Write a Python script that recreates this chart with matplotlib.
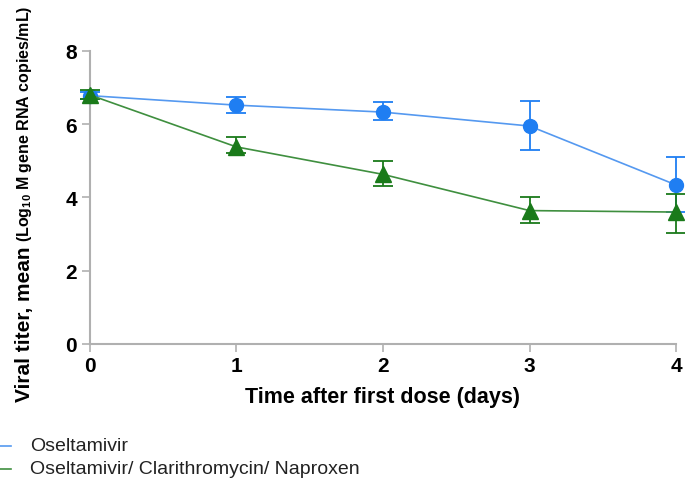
import numpy as np
import matplotlib
matplotlib.use("Agg")
import matplotlib.pyplot as plt

plt.rcParams['font.family'] = ['Liberation Sans', 'DejaVu Sans']
plt.rcParams['mathtext.fontset'] = 'custom'
plt.rcParams['mathtext.rm'] = 'Liberation Sans'
plt.rcParams['mathtext.bf'] = 'Liberation Sans:bold'

# ---------- DATA ----------
days = [0, 1, 2, 3, 4]
osel_mean = [6.78, 6.52, 6.33, 5.95, 4.34]
osel_lo = [0.10, 0.22, 0.22, 0.65, 0.75]
osel_hi = [0.10, 0.22, 0.28, 0.68, 0.76]
combo_mean = [6.80, 5.38, 4.63, 3.64, 3.60]
combo_lo = [0.12, 0.18, 0.32, 0.35, 0.57]
combo_hi = [0.12, 0.26, 0.36, 0.36, 0.50]
labels = ['Oseltamivir', 'Oseltamivir/ Clarithromycin/ Naproxen']

blue = '#1f7ef2'
blue_line = '#5599f0'
green = '#1a7a1a'
green_line = '#3f8f3f'

fig = plt.figure(figsize=(6.85, 4.81), dpi=100)
ax = fig.add_axes([0.131, 0.283, 0.856, 0.609])

ax.errorbar(days, osel_mean, yerr=[osel_lo, osel_hi], color=blue_line, lw=1.2,
            marker='o', ms=10, mfc=blue, mec=blue, ecolor=blue, elinewidth=1.3,
            capsize=7, capthick=1.3, clip_on=False, zorder=3)
ax.errorbar(days, combo_mean, yerr=[combo_lo, combo_hi], color=green_line, lw=1.2,
            marker='^', ms=12, mfc=green, mec=green, ecolor=green, elinewidth=1.3,
            capsize=7, capthick=1.3, clip_on=False, zorder=4)

ax.set_xlim(0, 4)
ax.set_ylim(0, 8)
ax.set_xticks(days)
ax.set_yticks([0, 2, 4, 6, 8])
for s in ['top', 'right']:
    ax.spines[s].set_visible(False)
for s in ['left', 'bottom']:
    ax.spines[s].set_color('#b0b0b0')
    ax.spines[s].set_linewidth(1.5)
ax.tick_params(colors='#b0b0b0', length=6, width=1.2, labelcolor='black',
               labelsize=15, pad=3)
for lab in ax.get_xticklabels() + ax.get_yticklabels():
    lab.set_fontweight('bold')

ax.set_xlabel('Time after first dose (days)', fontsize=15.5, fontweight='bold',
              labelpad=8)

# y label in two sizes
fig.text(0.036, 1 - 402 / 481, 'Viral titer, mean ', rotation=90, fontsize=15,
         fontweight='bold', ha='center', va='bottom')
fig.text(0.036, 1 - 242 / 481, '(Log$_{\\mathbf{10}}$ M gene RNA copies/mL)', rotation=90,
         fontsize=11.5, fontweight='bold', ha='center', va='bottom')

# legend at the bottom
for i, (lab, c) in enumerate(zip(labels, [blue_line, green_line])):
    yy = 1 - (447 + 23 * i) / 481
    fig.add_artist(plt.Line2D([0.0, 0.016], [yy, yy], color=c, lw=1.2))
    fig.text(0.044, yy, lab, fontsize=14, va='center', ha='left', color='#222222')

fig.savefig('out.png', dpi=100)
